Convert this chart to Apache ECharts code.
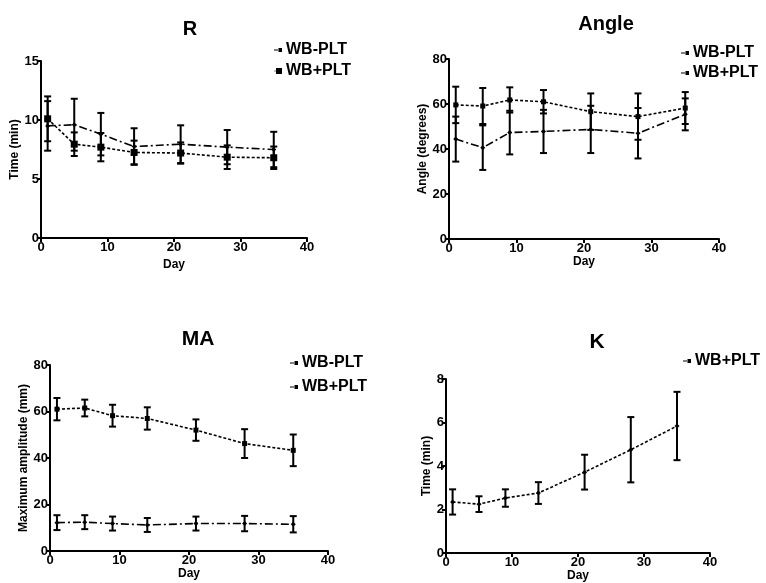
<!DOCTYPE html>
<html>
<head>
<meta charset="utf-8">
<script src="https://cdn.jsdelivr.net/npm/echarts@6/dist/echarts.min.js"></script>
<style>
  html, body { margin: 0; padding: 0; background: #fff; }
  #main { width: 766px; height: 583px; }
</style>
</head>
<body>
<div id="main"></div>
<script>
// sampling days
var days = [1, 5, 9, 14, 21, 28, 35];

// R (min)
var rMinus    = [9.5, 9.6, 8.8, 7.75, 7.95, 7.7, 7.5];
var rMinusErr = [2.1, 2.2, 1.8, 1.55, 1.6, 1.45, 1.5];
var rPlus     = [10.1, 7.95, 7.7, 7.25, 7.2, 6.85, 6.8];
var rPlusErr  = [1.9, 1.0, 1.2, 1.0, 0.9, 1.0, 0.95];

// Angle (degrees)
var angMinus    = [44.4, 40.6, 47.3, 47.8, 48.7, 47.0, 55.4];
var angMinusErr = [10.0, 9.9, 9.7, 9.6, 10.5, 11.2, 7.1];
var angPlus     = [59.6, 59.1, 61.8, 61.0, 56.6, 54.4, 58.2];
var angPlusErr  = [8.1, 8.0, 5.6, 5.2, 8.1, 10.3, 7.1];

// MA (mm)
var maMinus    = [12.2, 12.4, 11.8, 11.2, 11.8, 11.8, 11.5];
var maMinusErr = [3.2, 3.0, 3.0, 3.0, 3.0, 3.3, 3.5];
var maPlus     = [61.0, 61.5, 58.2, 57.0, 52.0, 46.2, 43.3];
var maPlusErr  = [4.8, 3.6, 4.7, 4.8, 4.6, 6.2, 6.8];

// K (min)
var kPlus    = [2.35, 2.25, 2.53, 2.76, 3.72, 4.75, 5.84];
var kPlusErr = [0.58, 0.36, 0.4, 0.5, 0.8, 1.5, 1.57];

var FONT = 'Liberation Sans, Arial, sans-serif';
var DASH_DOT = [8, 3, 2, 3];
var SHORT_DASH = [3, 2];
// little "-•" and "■" legend marks
var ICON_DOT = 'path://M0,2.5L4,2.5L4,3.5L0,3.5Z M4.5,1L8,1L8,5L4.5,5Z';
var ICON_SQ = 'path://M0,2.7L2,2.7L2,3.3L0,3.3Z M2,0L8,0L8,6L2,6Z';

function pairs(v) {
  return days.map(function (d, i) { return [d, v[i]]; });
}
function bars(v, e) {
  return days.map(function (d, i) { return [d, v[i] - e[i], v[i] + e[i]]; });
}

function errBar(params, api) {
  var x = api.value(0);
  var top = api.coord([x, api.value(2)]);
  var bot = api.coord([x, api.value(1)]);
  var w = 3.5;
  var st = { stroke: '#000', lineWidth: 2 };
  return {
    type: 'group',
    children: [
      { type: 'line', shape: { x1: top[0], y1: top[1], x2: bot[0], y2: bot[1] }, style: st },
      { type: 'line', shape: { x1: top[0] - w, y1: top[1], x2: top[0] + w, y2: top[1] }, style: st },
      { type: 'line', shape: { x1: bot[0] - w, y1: bot[1], x2: bot[0] + w, y2: bot[1] }, style: st }
    ]
  };
}

function xAx(idx, gap) {
  return {
    type: 'value', gridIndex: idx, min: 0, max: 40, interval: 10,
    name: 'Day', nameLocation: 'middle', nameGap: gap,
    nameTextStyle: { color: '#000', fontWeight: 'bold', fontSize: 12, fontFamily: FONT },
    axisLine: { lineStyle: { color: '#000', width: 2 } },
    axisTick: { length: 4, lineStyle: { color: '#000', width: 2 } },
    axisLabel: { color: '#000', fontWeight: 'bold', fontSize: 13, fontFamily: FONT, margin: 3 },
    splitLine: { show: false }
  };
}
function yAx(idx, max, step, name, gap) {
  return {
    type: 'value', gridIndex: idx, min: 0, max: max, interval: step,
    name: name, nameLocation: 'middle', nameGap: gap,
    nameTextStyle: { color: '#000', fontWeight: 'bold', fontSize: 12, fontFamily: FONT },
    axisLine: { show: true, lineStyle: { color: '#000', width: 2 } },
    axisTick: { show: true, length: 4, lineStyle: { color: '#000', width: 2 } },
    axisLabel: { color: '#000', fontWeight: 'bold', fontSize: 13, fontFamily: FONT, margin: 2 },
    splitLine: { show: false }
  };
}
function lineS(name, idx, vals, dash, sym, size) {
  return {
    name: name, type: 'line', xAxisIndex: idx, yAxisIndex: idx,
    data: pairs(vals), symbol: sym, symbolSize: size,
    itemStyle: { color: '#000' },
    lineStyle: { color: '#000', width: 1.6, type: dash },
    animation: false, z: 3
  };
}
function errS(idx, vals, err) {
  return {
    type: 'custom', xAxisIndex: idx, yAxisIndex: idx,
    data: bars(vals, err), renderItem: errBar,
    encode: { x: 0, y: [1, 2] }, animation: false, z: 2
  };
}
function legendAt(left, top, gap, items) {
  return {
    left: left, top: top, orient: 'vertical',
    itemWidth: 8, itemHeight: 6, itemGap: gap, selectedMode: false,
    textStyle: { color: '#000', fontWeight: 'bold', fontSize: 16, fontFamily: FONT, padding: [0, 0, 0, -1] },
    data: items
  };
}
function titleAt(text, x, y, size) {
  return {
    text: text, left: x, top: y, textAlign: 'center',
    textStyle: { color: '#000', fontWeight: 'bold', fontSize: size, fontFamily: FONT }
  };
}

var chart = echarts.init(document.getElementById('main'));
chart.setOption({
  backgroundColor: '#fff',
  animation: false,
  title: [
    titleAt('R', 185, 14, 20),
    titleAt('Angle', 601, 9, 20),
    titleAt('MA', 193, 324, 21),
    titleAt('K', 592, 327, 21)
  ],
  legend: [
    legendAt(269, 37, 5, [{ name: 'WB-PLT', icon: ICON_DOT }, { name: 'WB+PLT', icon: ICON_SQ }]),
    legendAt(676, 40, 4, [{ name: 'WB-PLT', icon: ICON_DOT }, { name: 'WB+PLT', icon: ICON_DOT }]),
    legendAt(285, 350, 8, [{ name: 'WB-PLT', icon: ICON_DOT }, { name: 'WB+PLT', icon: ICON_DOT }]),
    legendAt(678, 348, 4, [{ name: 'WB+PLT', icon: ICON_DOT }])
  ],
  grid: [
    { left: 41, right: 459, top: 61, bottom: 345 },
    { left: 449, right: 47, top: 59, bottom: 344 },
    { left: 50, right: 438, top: 365, bottom: 32 },
    { left: 446, right: 56, top: 379, bottom: 28 }
  ],
  xAxis: [xAx(0, 21), xAx(1, 17), xAx(2, 16), xAx(3, 14)],
  yAxis: [
    yAx(0, 15, 5, 'Time (min)', 20),
    yAx(1, 80, 20, 'Angle (degrees)', 20),
    yAx(2, 80, 20, 'Maximum amplitude (mm)', 19),
    yAx(3, 8, 2, 'Time (min)', 11)
  ],
  series: [
    errS(0, rMinus, rMinusErr),
    errS(0, rPlus, rPlusErr),
    lineS('WB-PLT', 0, rMinus, DASH_DOT, 'diamond', 5),
    lineS('WB+PLT', 0, rPlus, SHORT_DASH, 'rect', 7),

    errS(1, angMinus, angMinusErr),
    errS(1, angPlus, angPlusErr),
    lineS('WB-PLT', 1, angMinus, DASH_DOT, 'diamond', 5),
    lineS('WB+PLT', 1, angPlus, SHORT_DASH, 'rect', 5),

    errS(2, maMinus, maMinusErr),
    errS(2, maPlus, maPlusErr),
    lineS('WB-PLT', 2, maMinus, DASH_DOT, 'diamond', 5),
    lineS('WB+PLT', 2, maPlus, SHORT_DASH, 'rect', 5),

    errS(3, kPlus, kPlusErr),
    lineS('WB+PLT', 3, kPlus, SHORT_DASH, 'diamond', 5)
  ]
});
</script>
</body>
</html>
